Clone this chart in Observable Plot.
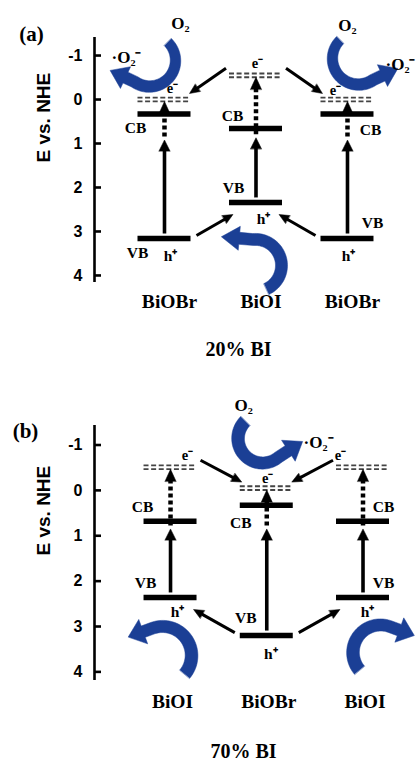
<!DOCTYPE html>
<html><head><meta charset="utf-8">
<script src="https://cdn.jsdelivr.net/npm/d3@7"></script>
<script src="https://cdn.jsdelivr.net/npm/@observablehq/plot@0.6"></script>
<style>
html,body{margin:0;padding:0;background:#fff;}
#chart{width:419px;}
#chart svg{display:block;background:#fff;}
#chart g[aria-label^="y-axis"] text{font-family:"Liberation Sans",Arial,sans-serif;font-weight:bold;font-size:16px;fill:#000;}
</style></head><body><div id="chart"></div>
<script>
// ---------- data (energies in eV vs. NHE) ----------
const yTicks = [-1, 0, 1, 2, 3, 4];
// (a) 20% BI
const matsA = ["BiOBr", "BiOI", "BiOBr"];
const cbA = [0.33, 0.66, 0.33];
const vbA = [3.16, 2.34, 3.16];
const eA = [0.0, -0.55, 0.0];      // dashed photo-electron levels
const tipA = [0.92, 0.87, 0.92];   // end of the excitation arrows
// (b) 70% BI
const matsB = ["BiOI", "BiOBr", "BiOI"];
const cbB = [0.68, 0.33, 0.68];
const vbB = [2.36, 3.2, 2.36];
const eB = [-0.51, -0.05, -0.51];
const tipB = [0.85, 0.85, 0.85];
const titles = ["20% BI", "70% BI"];
const tags = ["(a)", "(b)"];

const data = [
  {mats: matsA, cb: cbA, vb: vbA, e: eA, tip: tipA},
  {mats: matsB, cb: cbB, vb: vbB, e: eB, tip: tipB}
];

// ---------- layout (pixel offsets, styles) ----------
const BLUE = "#1b3f95";
const SERIF = "'Liberation Serif','Times New Roman',serif";
const SANS = "'Liberation Sans',Arial,sans-serif";
const layouts = [
  {height: 380, mt: 37, mb: 98, ml: 94, xd: [-0.765, 2.787], yd: [-1.41, 4.16],
   tag: [-63, -11], title: [-18.5, 73], matDy: 25, matDx: 5, ylab: 2.5,
   cbLab: [[-29, 13.5], [-23.5, -13], [23, 15.5]],
   vbLab: [[-27, 15], [-22.5, -14], [25, -15]],
   hLab: [[6, 18], [7.5, 17], [1, 18]],
   eLab: [[8, -11], [1.5, -12], [-12, -9]],
   blue: [
     {col: 0, ref: "e", c: [-15, -39], r: 26, a: [-45, 125], w: [10, 12], ext: 10, hrot: -10, hl: 17, hw: 24, o2: [16, -76], rad: [-38, -42]},
     {col: 2, ref: "e", c: [11, -41], r: 26, a: [225, 55], w: [10, 12], ext: 10, hrot: 10, hl: 17, hw: 24, o2: [0, -74], rad: [53, -35]},
     {col: 1, ref: "vb", c: [-0.5, 63], r: 26, a: [65, -95], w: [12, 12], ext: 14, hrot: 10, hl: 18, hw: 24}
   ]},
  {height: 385, mt: 45, mb: 85, ml: 94, xd: [-0.79, 2.587], yd: [-1.43, 4.19],
   tag: [-69, -2], title: [-13.5, 77], matDy: 27, matDx: 2, ylab: 2.5,
   cbLab: [[-28, -13.8], [-26, 18], [20.5, -13.8]],
   vbLab: [[-25, -14], [-21, -18], [20.5, -14]],
   hLab: [[7, 15], [4, 18], [4.5, 15]],
   eLab: [[17, -12], [1, -9.6], [-22.5, -12]],
   blue: [
     {col: 1, ref: "e", c: [-4.2, -49.6], r: 24.5, a: [225, 50], w: [13, 12], ext: 12, hrot: 7, hl: 17, hw: 25, o2: [-23.2, -82.6], rad: [51.8, -45.6]},
     {col: 0, ref: "vb", c: [-8, 58], r: 29, a: [40, -110], w: [13, 12], ext: 10, hrot: 0, hl: 16, hw: 26},
     {col: 2, ref: "vb", c: [17.5, 55], r: 27.5, a: [140, 290], w: [13, 12], ext: 10, hrot: 0, hl: 16, hw: 26}
   ]}
];

function drawPanel(k) {
  const L = layouts[k], D = data[k], W = 419;
  const kx = (W - L.ml) / (L.xd[1] - L.xd[0]);
  const ky = (L.height - L.mt - L.mb) / (L.yd[1] - L.yd[0]);
  const X = p => p / kx, Y = p => p / ky;
  const cols = D.mats.map((_, i) => i);
  const hw = X(26.5);
  const bars = cols.flatMap(i => [{x1: i - hw, x2: i + hw, y: D.cb[i]}, {x1: i - hw, x2: i + hw, y: D.vb[i]}]);
  const eLev = cols.map(i => ({x1: i - hw, x2: i + hw, y: D.e[i]}));
  const heads = [], thick = [], thin = [], dotted = [], blue = [];
  let pid = 0;
  function head(tx, ty, ux, uy, len, wid) {
    const id = pid++;
    const bx = tx - X(ux * len), by = ty - Y(uy * len);
    const nx = -uy, ny = ux;
    heads.push({id, x: bx + X(nx * wid / 2), y: by + Y(ny * wid / 2)});
    heads.push({id, x: tx, y: ty});
    heads.push({id, x: bx - X(nx * wid / 2), y: by - Y(ny * wid / 2)});
    return [bx, by];
  }
  function arrow(list, x1, y1, x2, y2, len, wid) {
    const dxp = (x2 - x1) * kx, dyp = (y2 - y1) * ky, n = Math.hypot(dxp, dyp);
    const ux = dxp / n, uy = dyp / n;
    const [bx, by] = head(x2, y2, ux, uy, len, wid);
    list.push({x1, y1, x2: bx + X(ux * 1.5), y2: by + Y(uy * 1.5)});
  }
  cols.forEach(i => {
    arrow(thick, i, D.vb[i] - Y(5), i, D.tip[i], 11, 11);
    const [, by] = head(i, D.e[i] + Y(2), 0, -1, 12, 11);
    dotted.push({x: i, y1: D.tip[i] - Y(3), y2: by});
  });
  [0, 2].forEach(o => {
    let s = o, t = 1;
    if (D.e[1] < D.e[o]) { s = 1; t = o; }
    let g = Math.sign(t - s);
    arrow(thin, s + g * X(30), D.e[s] - Y(7), t - g * X(25), D.e[t] - Y(6), 10, 9);
    s = o; t = 1;
    if (D.vb[1] > D.vb[o]) { s = 1; t = o; }
    g = Math.sign(t - s);
    arrow(thin, s + g * X(32), D.vb[s] - Y(3), t - g * X(23), D.vb[t] + Y(12), 10, 9);
  });
  const o2 = [];
  L.blue.forEach(b => {
    const ax = b.col, ay = b.ref === "e" ? D.e[b.col] : D.vb[b.col];
    const id = pid++, N = 48, s1 = [], s2 = [];
    for (let j = 0; j <= N; j++) {
      const t = j / N, th = (b.a[0] + (b.a[1] - b.a[0]) * t) * Math.PI / 180;
      const w = b.w[0] + (b.w[1] - b.w[0]) * t;
      const px = b.c[0] + b.r * Math.cos(th), py = b.c[1] + b.r * Math.sin(th);
      s1.push([px + Math.cos(th) * w / 2, py + Math.sin(th) * w / 2]);
      s2.push([px - Math.cos(th) * w / 2, py - Math.sin(th) * w / 2]);
    }
    const th1 = b.a[1] * Math.PI / 180, sg = Math.sign(b.a[1] - b.a[0]);
    let tx = -Math.sin(th1) * sg, ty = Math.cos(th1) * sg;
    const rr = b.hrot * Math.PI / 180;
    const dx = tx * Math.cos(rr) - ty * Math.sin(rr), dy = tx * Math.sin(rr) + ty * Math.cos(rr);
    const nx = -dy, ny = dx;
    const ex = b.c[0] + b.r * Math.cos(th1), ey = b.c[1] + b.r * Math.sin(th1);
    const hx = ex + dx * b.ext, hy = ey + dy * b.ext, wEnd = b.w[1] / 2;
    const sA = s1[N], side = ((sA[0] - ex) * nx + (sA[1] - ey) * ny) >= 0 ? 1 : -1;
    const pts = [
      ...s1,
      [hx + side * nx * wEnd, hy + side * ny * wEnd],
      [hx + side * nx * b.hw / 2, hy + side * ny * b.hw / 2],
      [hx + dx * b.hl, hy + dy * b.hl],
      [hx - side * nx * b.hw / 2, hy - side * ny * b.hw / 2],
      [hx - side * nx * wEnd, hy - side * ny * wEnd],
      ...s2.reverse()
    ];
    pts.forEach(([px, py]) => blue.push({id, x: ax + X(px), y: ay + Y(py)}));
    if (b.o2) o2.push({x: ax + X(b.o2[0]), y: ay + Y(b.o2[1]), t: "O\u2082"});
    if (b.rad) o2.push({x: ax + X(b.rad[0]), y: ay + Y(b.rad[1]), t: "\u00b7O\u2082\u207b"});
  });
  const small = [];
  cols.forEach(i => {
    small.push({x: i + X(L.cbLab[i][0]), y: D.cb[i] + Y(L.cbLab[i][1]), t: "CB"});
    small.push({x: i + X(L.vbLab[i][0]), y: D.vb[i] + Y(L.vbLab[i][1]), t: "VB"});
    small.push({x: i + X(L.hLab[i][0]), y: D.vb[i] + Y(L.hLab[i][1]), t: "h\u207a"});
  });
  const eTxt = cols.map(i => ({x: i + X(L.eLab[i][0]), y: D.e[i] + Y(L.eLab[i][1]), t: "e\u207b"}));
  const x0 = L.xd[0];
  return Plot.plot({
    width: W, height: L.height,
    marginTop: L.mt, marginBottom: L.mb, marginLeft: L.ml, marginRight: 0,
    x: {domain: L.xd, axis: null},
    y: {domain: L.yd, reverse: true, ticks: yTicks, tickSize: 0, tickPadding: 12, tickFormat: d => String(d), label: null},
    marks: [
      Plot.ruleX([x0], {stroke: "#000", strokeWidth: 2.6}),
      Plot.ruleY(yTicks, {x1: x0, x2: x0 + X(7), stroke: "#000", strokeWidth: 2.6}),
      Plot.text(["E vs. NHE"], {frameAnchor: "left", dx: -51, dy: L.ylab, rotate: -90, fontSize: 19, fontWeight: "bold", fontFamily: SANS, fill: "#000"}),
      Plot.line(blue, {x: "x", y: "y", z: "id", fill: BLUE, stroke: BLUE, strokeWidth: 0.5, curve: "linear-closed"}),
      Plot.ruleY(eLev, {x1: "x1", x2: "x2", y: "y", dy: -1.9, stroke: "#444", strokeWidth: 1.9, strokeDasharray: "5,2.6"}),
      Plot.ruleY(eLev, {x1: "x1", x2: "x2", y: "y", dy: 1.9, stroke: "#444", strokeWidth: 1.9, strokeDasharray: "5,2.6"}),
      Plot.ruleY(bars, {x1: "x1", x2: "x2", y: "y", stroke: "#000", strokeWidth: 5.5}),
      Plot.ruleX(dotted, {x: "x", y1: "y1", y2: "y2", stroke: "#000", strokeWidth: 4.5, strokeDasharray: "4,3"}),
      Plot.link(thick, {x1: "x1", y1: "y1", x2: "x2", y2: "y2", stroke: "#000", strokeWidth: 3.6}),
      Plot.link(thin, {x1: "x1", y1: "y1", x2: "x2", y2: "y2", stroke: "#000", strokeWidth: 3}),
      Plot.line(heads, {x: "x", y: "y", z: "id", fill: "#000", stroke: "#000", strokeWidth: 0.5, curve: "linear-closed"}),
      Plot.text(small, {x: "x", y: "y", text: "t", fontSize: 15.5, fontWeight: "bold", fontFamily: SERIF, fill: "#000"}),
      Plot.text(eTxt, {x: "x", y: "y", text: "t", fontSize: 14.5, fontWeight: "bold", fontFamily: SERIF, fill: "#000"}),
      Plot.text(o2, {x: "x", y: "y", text: "t", fontSize: 17, fontWeight: "bold", fontFamily: SERIF, fill: "#000"}),
      Plot.text(D.mats, {x: (d, i) => i, frameAnchor: "bottom", dx: L.matDx, dy: L.matDy, fontSize: 19.5, fontWeight: "bold", fontFamily: SERIF, fill: "#000"}),
      Plot.text([titles[k]], {frameAnchor: "bottom", dx: L.title[0], dy: L.title[1], fontSize: 20, fontWeight: "bold", fontFamily: SERIF, fill: "#000"}),
      Plot.text([tags[k]], {frameAnchor: "top-left", dx: L.tag[0], dy: L.tag[1], textAnchor: "middle", fontSize: 21, fontWeight: "bold", fontFamily: SERIF, fill: "#000"})
    ]
  });
}
const root = document.getElementById("chart");
root.appendChild(drawPanel(0));
root.appendChild(drawPanel(1));
</script></body></html>
